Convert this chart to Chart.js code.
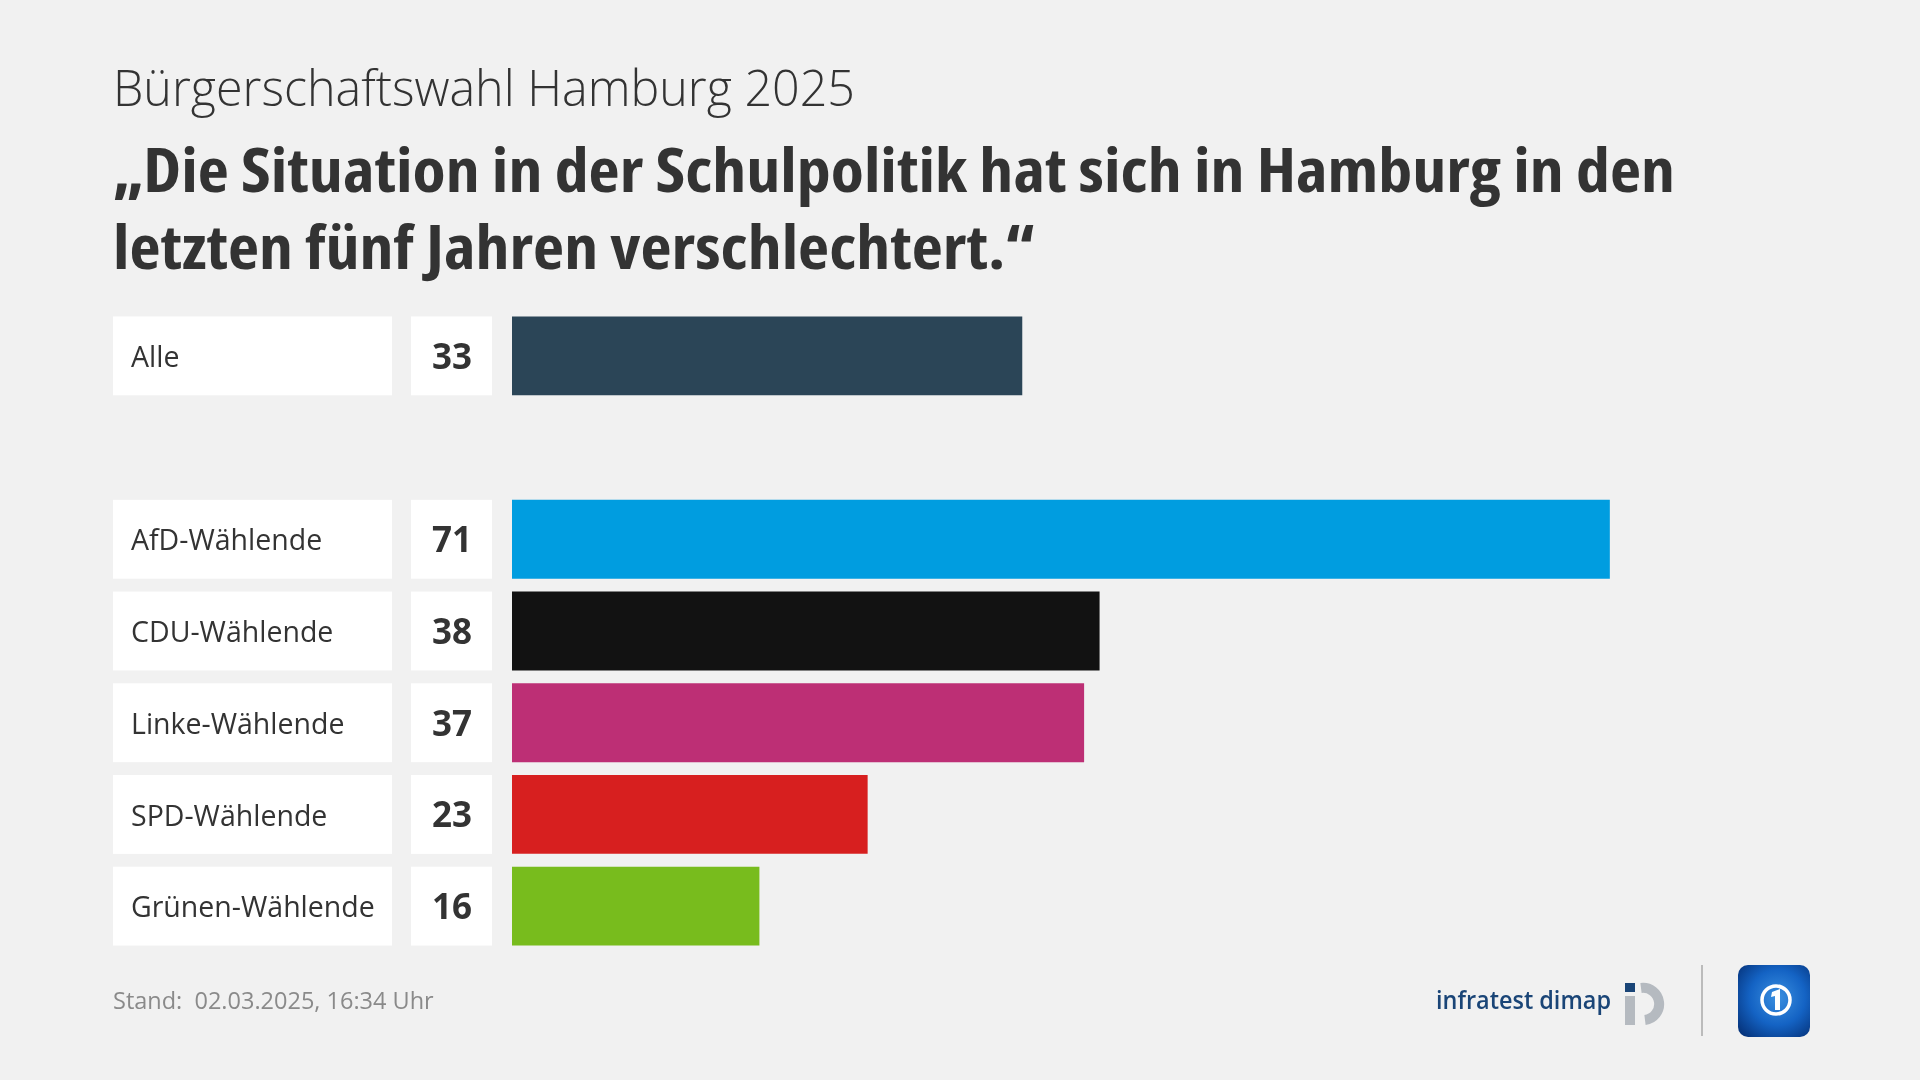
<!DOCTYPE html>
<html lang="de">
<head>
<meta charset="utf-8">
<title>Bürgerschaftswahl Hamburg 2025</title>
<script src="https://cdn.jsdelivr.net/npm/chart.js@4.4.0/dist/chart.umd.min.js"></script>
<style>
  body {
    margin: 0;
    width: 1920px;
    height: 1080px;
    background: #f1f1f1;
    font-family: "Open Sans", sans-serif;
    color: #333;
    overflow: hidden;
    position: relative;
  }
  .zeile { position: absolute; left: 113px; white-space: nowrap; }
  .zeile span { display: inline-block; transform-origin: 0 50%; }
  #kicker { top: 62px; font-size: 50px; line-height: 50px; font-weight: 300; }
  #titel1, #titel2 { font-size: 61px; line-height: 77px; font-weight: 700; font-stretch: condensed; }
  #titel1 { top: 130px; }
  #titel2 { top: 207px; }
  #grafik { position: absolute; left: 0; top: 0; }
  #stand { position: absolute; left: 113px; top: 985px; font-size: 23.5px; line-height: 30px; color: #8a8a8a; }
  #logos { position: absolute; left: 0; top: 0; }
</style>
</head>
<body>
<div class="zeile" id="kicker"><span>Bürgerschaftswahl Hamburg 2025</span></div>
<div class="zeile" id="titel1"><span>„Die Situation in der Schulpolitik hat sich in Hamburg in den</span></div>
<div class="zeile" id="titel2"><span>letzten fünf Jahren verschlechtert.“</span></div>

<canvas id="grafik" width="1920" height="1080"></canvas>

<div id="stand">Stand:&nbsp; 02.03.2025, 16:34 Uhr</div>

<svg id="logos" width="1920" height="1080">
  <defs>
    <radialGradient id="ardVerlauf" cx="0.55" cy="0.45" r="0.7">
      <stop offset="0" stop-color="#3a8fe0"/>
      <stop offset="0.55" stop-color="#1463c4"/>
      <stop offset="1" stop-color="#06357e"/>
    </radialGradient>
  </defs>
  <text x="1611" y="1009" text-anchor="end" font-family="Open Sans" font-weight="600" font-size="26"
        textLength="175" lengthAdjust="spacingAndGlyphs" fill="#1a4577">infratest dimap</text>
  <rect x="1625" y="983" width="10" height="9" fill="#1a4577"/>
  <rect x="1625" y="996" width="10" height="29" fill="#b5bac0"/>
  <path d="M 1641 988 A 16 16 0 1 1 1645 1020" fill="none" stroke="#b5bac0" stroke-width="10"/>
  <line x1="1702" y1="965" x2="1702" y2="1036" stroke="#bbbbbb" stroke-width="2"/>
  <rect x="1738" y="965" width="72" height="72" rx="10" fill="url(#ardVerlauf)"/>
  <circle cx="1776" cy="1000" r="14" fill="none" stroke="#ffffff" stroke-width="3.5"/>
  <path d="M 1772 992 L 1780 989 L 1780 1010 L 1775 1010 L 1775 996 L 1771 997 Z" fill="#ffffff"/>
</svg>

<script>
// Daten
const kategorien = ["Alle", "", "AfD-Wählende", "CDU-Wählende", "Linke-Wählende", "SPD-Wählende", "Grünen-Wählende"];
const werte = [33, null, 71, 38, 37, 23, 16];
const farben = ["#2b4557", "rgba(0,0,0,0)", "#009de0", "#121212", "#bd2f75", "#d71f1f", "#78bc1d"];

// Titelzeilen auf die Breite des Originals bringen
function einpassen(id, breite) {
  const span = document.querySelector("#" + id + " span");
  const w = span.getBoundingClientRect().width;
  span.style.transform = "scaleX(" + (breite / w) + ")";
}
einpassen("kicker", 742);
einpassen("titel1", 1562);
const s1 = document.querySelector("#titel1 span").style.transform;
document.querySelector("#titel2 span").style.transform = s1;

// Beschriftungsboxen links neben den Balken
const boxenPlugin = {
  id: "boxen",
  afterDatasetsDraw(chart) {
    const ctx = chart.ctx;
    const meta = chart.getDatasetMeta(0);
    meta.data.forEach((bar, i) => {
      if (werte[i] === null) return;
      const oben = bar.y - bar.height / 2;
      ctx.save();
      ctx.fillStyle = "#ffffff";
      ctx.fillRect(113, oben, 279, bar.height);
      ctx.fillRect(411, oben, 81, bar.height);

      ctx.fillStyle = "#333333";
      ctx.textBaseline = "middle";
      ctx.font = "400 28.5px 'Open Sans'";
      ctx.textAlign = "left";
      ctx.fillText(kategorien[i], 131, bar.y + 3);

      ctx.font = "700 35px 'Open Sans'";
      ctx.textAlign = "center";
      ctx.fillText(String(werte[i]), 452, bar.y + 3);
      ctx.restore();
    });
  },
};

const grafik = new Chart(document.getElementById("grafik"), {
  type: "bar",
  data: {
    labels: kategorien,
    datasets: [
      {
        data: werte,
        backgroundColor: farben,
        borderWidth: 0,
        categoryPercentage: 1,
        barPercentage: 0.86,
      },
    ],
  },
  options: {
    indexAxis: "y",
    responsive: false,
    animation: false,
    layout: {
      padding: { left: 512, right: 171, top: 310, bottom: 128 },
    },
    scales: {
      x: { display: false, min: 0, max: 80 },
      y: { display: false },
    },
    plugins: {
      legend: { display: false },
      tooltip: { enabled: false },
    },
  },
  plugins: [boxenPlugin],
});
</script>
</body>
</html>
